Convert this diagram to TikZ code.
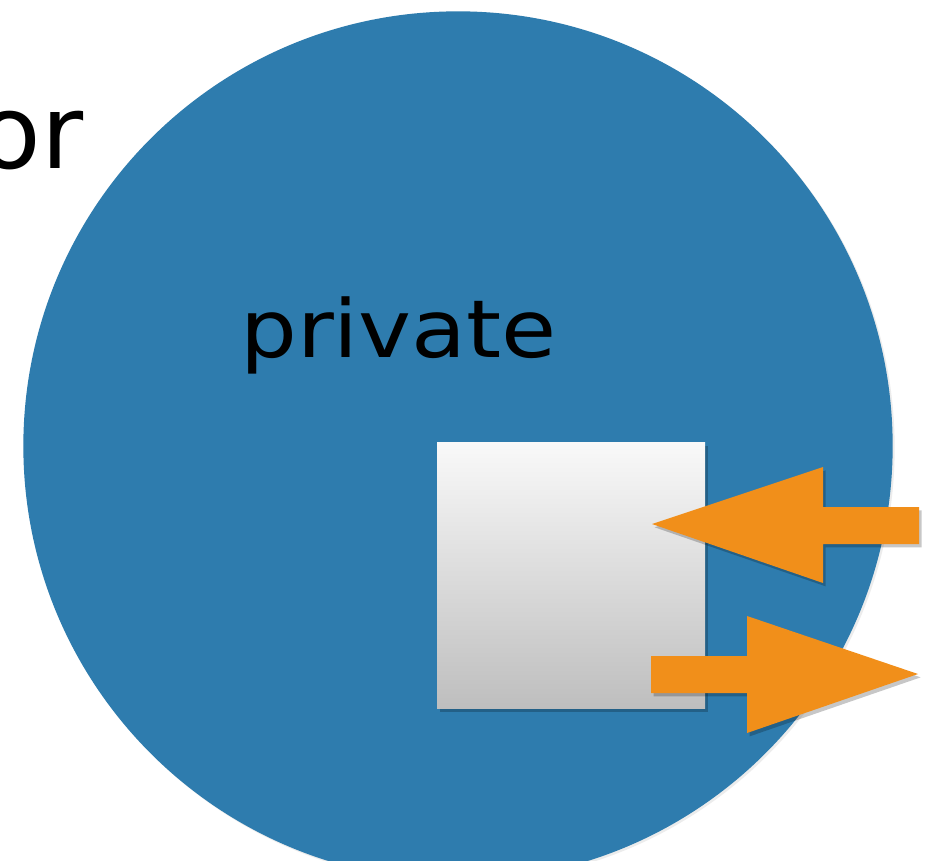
\documentclass[tikz,border=0pt]{standalone}
\usepackage{fontspec}
\setmainfont{DejaVu Sans}
\usetikzlibrary{shadows}
\definecolor{circblue}{RGB}{46,124,174}
\definecolor{arroworange}{RGB}{241,143,26}
\definecolor{boxtop}{RGB}{249,249,249}
\definecolor{boxbot}{RGB}{190,190,190}
\tikzset{
  softshadow/.style={drop shadow={opacity=0.22, shadow xshift=2pt, shadow yshift=-2.5pt, fill=black}},
  bigarrow/.style={fill=arroworange, softshadow},
  label/.style={inner sep=0pt, text=black}
}
\begin{document}
\begin{tikzpicture}[x=0.75pt,y=-0.75pt]
\useasboundingbox (0,0) rectangle (927,860);
\fill[white] (0,0) rectangle (927,860);
% large circle
\node[circle, fill=circblue, minimum size=652pt, inner sep=0pt, drop shadow={opacity=0.15, shadow xshift=1.5pt, shadow yshift=-1.5pt}] (region) at (458,446) {};
% texts
\node[label, anchor=base east] (ortext) at (84,168) {\fontsize{76.8}{90}\selectfont or};
\node[label, anchor=base] (privtext) at (398.5,357) {\scalebox{1.12}[1]{\fontsize{60}{72}\selectfont private}};
% square
\node[rectangle, inner sep=0pt, minimum width=201pt, minimum height=200pt, top color=boxtop, bottom color=boxbot, softshadow] (box) at (571,575.5) {};
% arrows
\fill[bigarrow] (919,507) -- (823,507) -- (823,467) -- (652,524) -- (823,583) -- (823,544) -- (919,544) -- cycle;
\fill[bigarrow] (651,656) -- (747,656) -- (747,616) -- (918,674) -- (747,733) -- (747,693) -- (651,693) -- cycle;
\end{tikzpicture}
\end{document}
